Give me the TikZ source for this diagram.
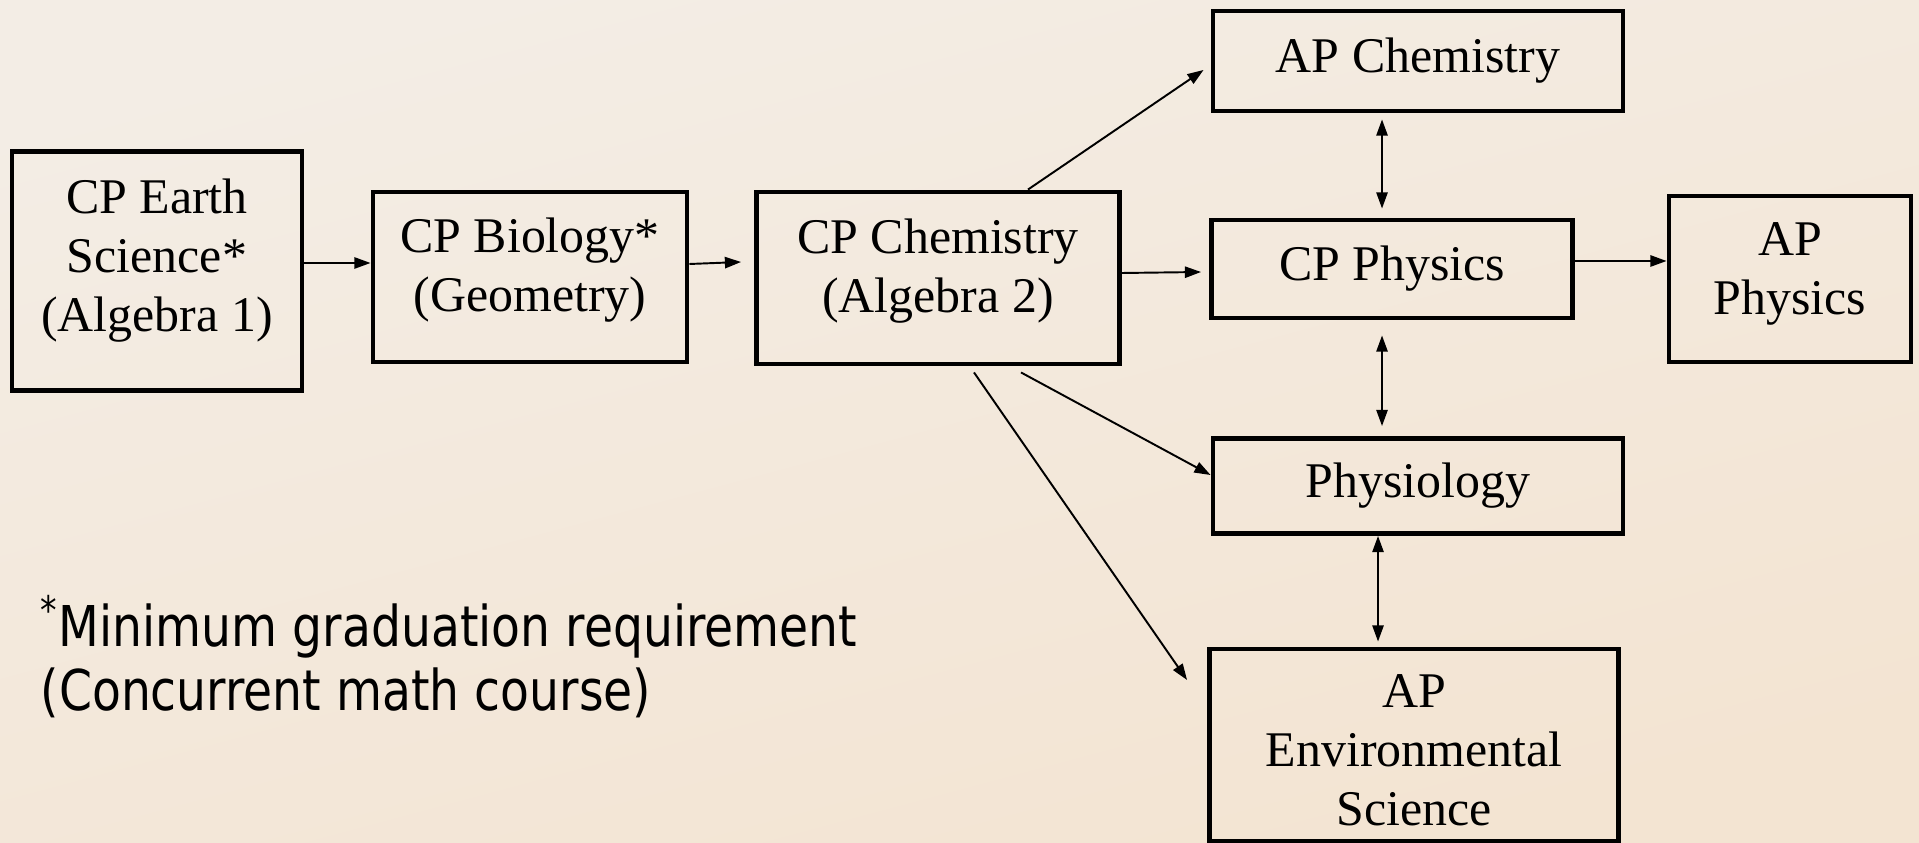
\documentclass[tikz,border=0pt]{standalone}
\usepackage{fontspec}
\setmainfont{Liberation Serif}
\newfontfamily\notefont[FakeStretch=0.84]{DejaVu Sans}
\usetikzlibrary{arrows.meta,calc}

\definecolor{bgtop}{RGB}{243,237,229}
\definecolor{bgmid}{RGB}{221,217,212}
\definecolor{bgbot}{RGB}{243,228,210}

\begin{document}
\begin{tikzpicture}[x=0.1mm, y=0.1mm]
\tikzstyle{course}=[draw=black, line width=1.4pt, inner sep=0pt, align=center, font=\fontsize{14.2}{16.8}\selectfont]
\tikzstyle{link}=[black, line width=0.55pt, -{Triangle[length=4.6pt,width=3.2pt]}]
\tikzstyle{both}=[link, {Triangle[length=4.6pt,width=3.2pt]}-{Triangle[length=4.6pt,width=3.2pt]}]
% backdrop
\shade [top color=bgtop, middle color=bgmid, bottom color=bgbot, shading angle=15] (0,0) rectangle (1919,-843);
\useasboundingbox (0,0) rectangle (1919,-843);
% courses
\node [course, minimum width=29mm, minimum height=23.9mm, text depth=8.8pt] (earth) at (157,-271) {CP Earth\\Science*\\(Algebra 1)};
\node [course, minimum width=31.4mm, minimum height=17mm, text depth=7pt] (bio) at (530,-277) {CP Biology*\\(Geometry)};
\node [course, minimum width=36.3mm, minimum height=17.2mm, text depth=7pt] (chem) at (938,-278) {CP Chemistry\\(Algebra 2)};
\node [course, minimum width=41mm, minimum height=10mm] (apchem) at (1418,-61) {AP Chemistry};
\node [course, minimum width=36.1mm, minimum height=9.8mm] (cpphys) at (1392,-269) {CP Physics};
\node [course, minimum width=24.2mm, minimum height=16.6mm, text depth=6pt] (apphys) at (1790,-279) {AP\\Physics};
\node [course, minimum width=41mm, minimum height=9.5mm] (physio) at (1418,-486) {Physiology};
\node [course, minimum width=40.9mm, minimum height=19.2mm, text height=46.1pt] (apenv) at (1414,-745) {AP\\Environmental\\Science};
% sequence
\draw [link] ($(earth.east)+(0,8)$) -- ($(bio.west)+(0,14)$);
\draw [link] ($(bio.east)+(0,13)$) -- ($(chem.west)+(-13,16)$);
\draw [link] ($(chem.north)+(90,0)$) -- ($(apchem.west)+(-7,-9)$);
\draw [link] ($(chem.east)+(0,5)$) -- ($(cpphys.west)+(-8,-3)$);
\draw [link] ($(chem.south)+(83,-6)$) -- ($(physio.west)+(0,11)$);
\draw [link] ($(chem.south)+(36,-6)$) -- ($(apenv.west)+(-20,65)$);
\draw [link] ($(cpphys.east)+(0,8)$) -- ($(apphys.west)+(0,18)$);
\draw [both] ($(apchem.south)+(-36,-6)$) -- ($(cpphys.north)+(-10,9)$);
\draw [both] ($(cpphys.south)+(-10,-15)$) -- ($(physio.north)+(-36,10)$);
\draw [both] ($(physio.south)+(-40,0)$) -- ($(apenv.north)+(-36,5)$);
% footnote
\node [anchor=base west, inner sep=0pt, align=left, font=\notefont\fontsize{16}{18.2}\selectfont] (note) at (40,-710) {\textsuperscript{*}Minimum graduation requirement\\(Concurrent math course)};
\end{tikzpicture}
\end{document}
